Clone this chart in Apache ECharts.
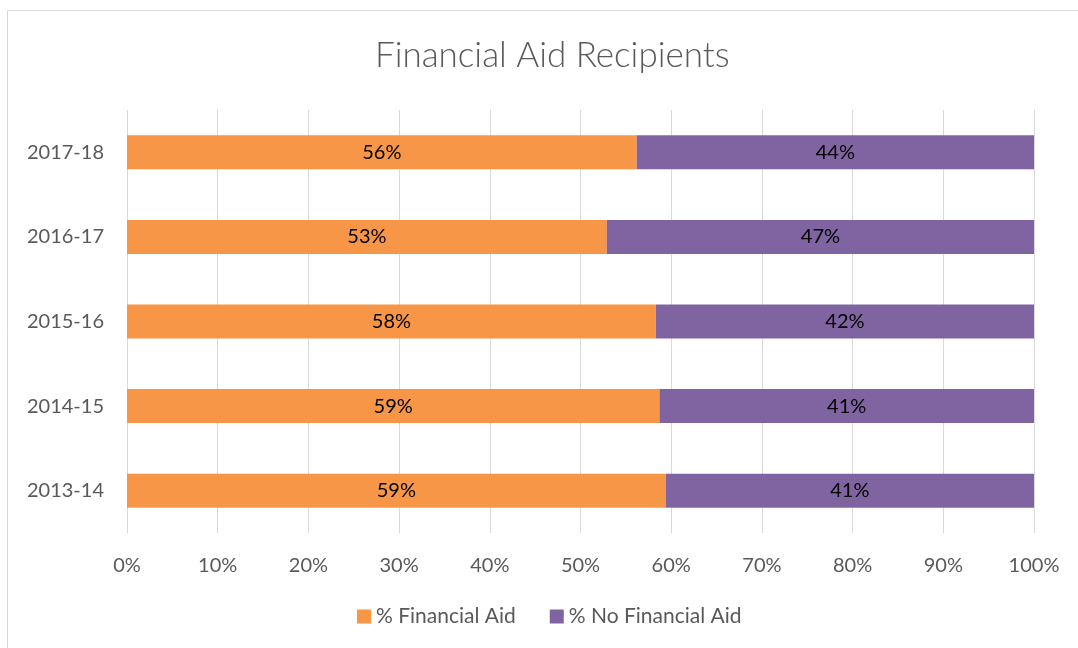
<!DOCTYPE html>
<html>
<head>
<meta charset="utf-8">
<script src="https://cdn.jsdelivr.net/npm/echarts@6/dist/echarts.min.js"></script>
<style>
html, body { margin: 0; padding: 0; background: #fff; }
#chart { width: 1078px; height: 648px; }
</style>
</head>
<body>
<div id="chart"></div>
<script>
// years, bottom to top as drawn
const years = ['2013-14', '2014-15', '2015-16', '2016-17', '2017-18'];
const finAid = [59.4, 58.7, 58.3, 52.9, 56.2];
const noFinAid = [40.6, 41.3, 41.7, 47.1, 43.8];
const tickLabels = ['0%', '10%', '20%', '30%', '40%', '50%', '60%', '70%', '80%', '90%', '100%'];

const chart = echarts.init(document.getElementById('chart'));
const font = 'Lato, "Open Sans", sans-serif';

const labelOpt = {
    show: true,
    position: 'inside',
    color: '#000',
    fontSize: 20,
    fontFamily: font,
    formatter: p => Math.round(p.value) + '%'
};

chart.setOption({
    animation: false,
    textStyle: { fontFamily: font },
    graphic: [{
        type: 'rect',
        shape: { x: 7.5, y: 10.5, width: 1090, height: 660 },
        style: { fill: 'none', stroke: '#d9d9d9', lineWidth: 1 },
        silent: true
    }],
    title: {
        text: 'Financial Aid Recipients',
        left: 370,
        top: 33,
        textStyle: { fontSize: 35, fontWeight: 300, color: '#595959', fontFamily: font }
    },
    legend: {
        bottom: 16,
        left: 352,
        itemWidth: 14,
        itemHeight: 14,
        itemGap: 34,
        icon: 'rect',
        textStyle: { fontSize: 21, color: '#595959', fontFamily: font }
    },
    grid: { left: 127, right: 44, top: 110, bottom: 115 },
    xAxis: {
        type: 'value',
        min: 0,
        max: 100,
        interval: 10,
        axisLine: { show: false },
        axisTick: { show: false },
        splitLine: { lineStyle: { color: '#d9d9d9', width: 1 } },
        axisLabel: {
            fontSize: 20,
            color: '#595959',
            margin: 23,
            formatter: v => tickLabels[Math.round(v / 10)]
        }
    },
    yAxis: {
        type: 'category',
        data: years,
        axisLine: { show: false },
        axisTick: { show: false },
        axisLabel: { fontSize: 20, color: '#595959', margin: 23 }
    },
    series: [
        {
            name: '% Financial Aid',
            type: 'bar',
            stack: 'total',
            barWidth: 34,
            data: finAid,
            itemStyle: { color: '#F79646' },
            label: labelOpt
        },
        {
            name: '% No Financial Aid',
            type: 'bar',
            stack: 'total',
            barWidth: 34,
            data: noFinAid,
            itemStyle: { color: '#8064A2' },
            label: labelOpt
        }
    ]
});
</script>
</body>
</html>
